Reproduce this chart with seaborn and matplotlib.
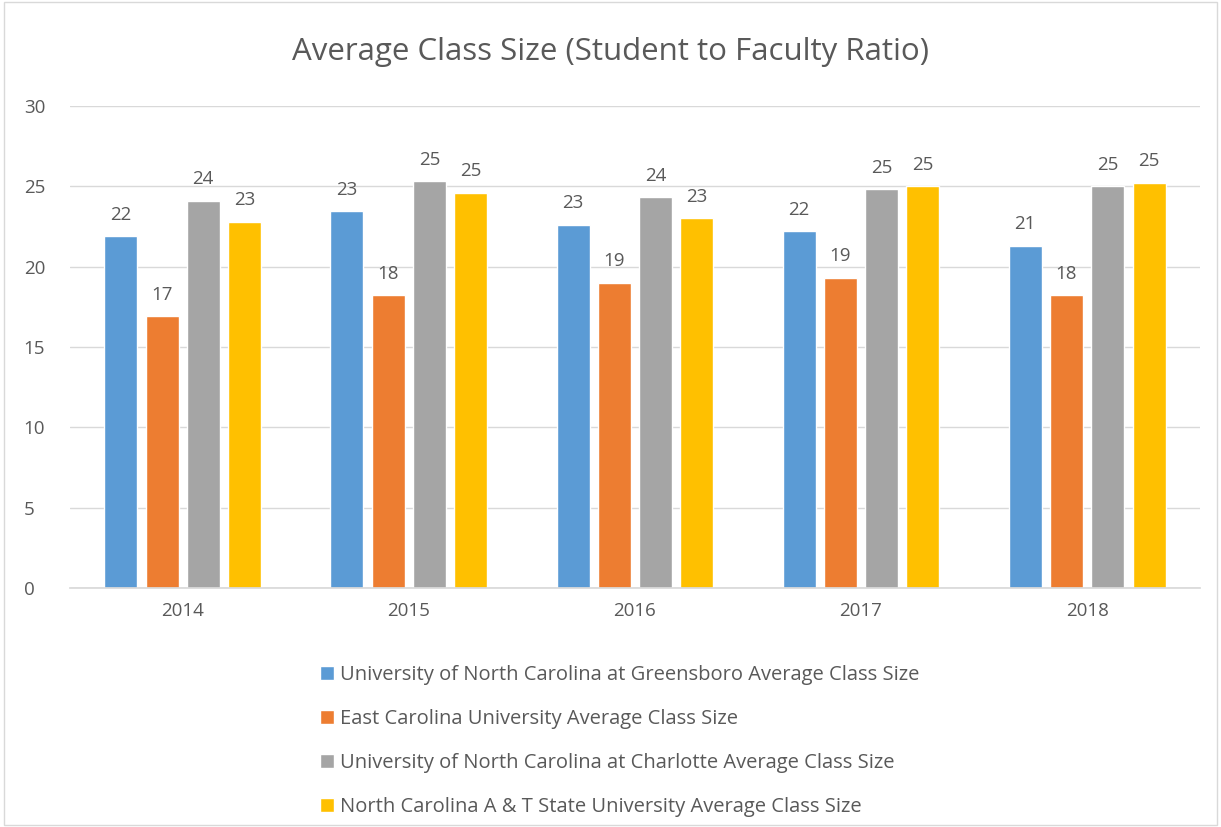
import matplotlib
matplotlib.use("Agg")
import matplotlib.pyplot as plt
import seaborn as sns
import pandas as pd

years = ["2014", "2015", "2016", "2017", "2018"]
series = [
    "University of North Carolina at Greensboro Average Class Size",
    "East Carolina University Average Class Size",
    "University of North Carolina at Charlotte Average Class Size",
    "North Carolina A & T State University Average Class Size",
]
uncg = [21.9, 23.45, 22.6, 22.2, 21.3]
ecu = [16.9, 18.2, 19.0, 19.3, 18.2]
uncc = [24.1, 25.3, 24.3, 24.8, 25.0]
ncat = [22.8, 24.6, 23.0, 25.0, 25.2]
colors = ["#5B9BD5", "#ED7D31", "#A5A5A5", "#FFC000"]

rows = []
for name, vals in zip(series, [uncg, ecu, uncc, ncat]):
    for y, v in zip(years, vals):
        rows.append({"Year": y, "Series": name, "Value": v})
df = pd.DataFrame(rows)

sns.set_theme(style="white")
plt.rcParams["font.family"] = ["Open Sans", "DejaVu Sans"]
txt = "#595959"

fig = plt.figure(figsize=(12.21, 8.27), dpi=100)
ax = fig.add_axes([0.057, 0.289, 0.926, 0.583])
sns.barplot(data=df, x="Year", y="Value", hue="Series", palette=colors,
            width=0.73, gap=0.2, ax=ax, saturation=1, legend=True)

ax.set_ylim(0, 30)
ax.set_yticks(range(0, 31, 5))
ax.yaxis.grid(True, color="#D9D9D9", linewidth=1)
ax.set_axisbelow(True)
for s in ["top", "right", "left"]:
    ax.spines[s].set_visible(False)
ax.spines["bottom"].set_color("#D9D9D9")
ax.set_xlabel("")
ax.set_ylabel("")
ax.tick_params(axis="both", colors=txt, labelsize=13.5, length=0)
ax.tick_params(axis="x", pad=10)
ax.tick_params(axis="y", pad=33)
for lab in ax.get_yticklabels():
    lab.set_horizontalalignment("left")
ax.set_xlim(-0.5, 4.5)

for cont in ax.containers:
    ax.bar_label(cont, labels=[f"{round(v.get_height()):d}" for v in cont],
                 padding=9, color=txt, fontsize=13.5)

fig.text(0.5, 0.937, "Average Class Size (Student to Faculty Ratio)",
         ha="center", va="center", fontsize=22.5, color=txt)

handles, labels = ax.get_legend_handles_labels()
ax.get_legend().remove()
leg = fig.legend(handles, labels, loc="upper left", bbox_to_anchor=(0.247, 0.218),
                 frameon=False, fontsize=14.5, labelcolor=txt,
                 handlelength=0.7, handleheight=0.7, handletextpad=0.3,
                 labelspacing=1.19)

fig.patches.append(plt.Rectangle((0.003, 0.003), 0.994, 0.994, transform=fig.transFigure,
                                 fill=False, edgecolor="#D9D9D9", linewidth=1))
fig.savefig("out.png", dpi=100)
